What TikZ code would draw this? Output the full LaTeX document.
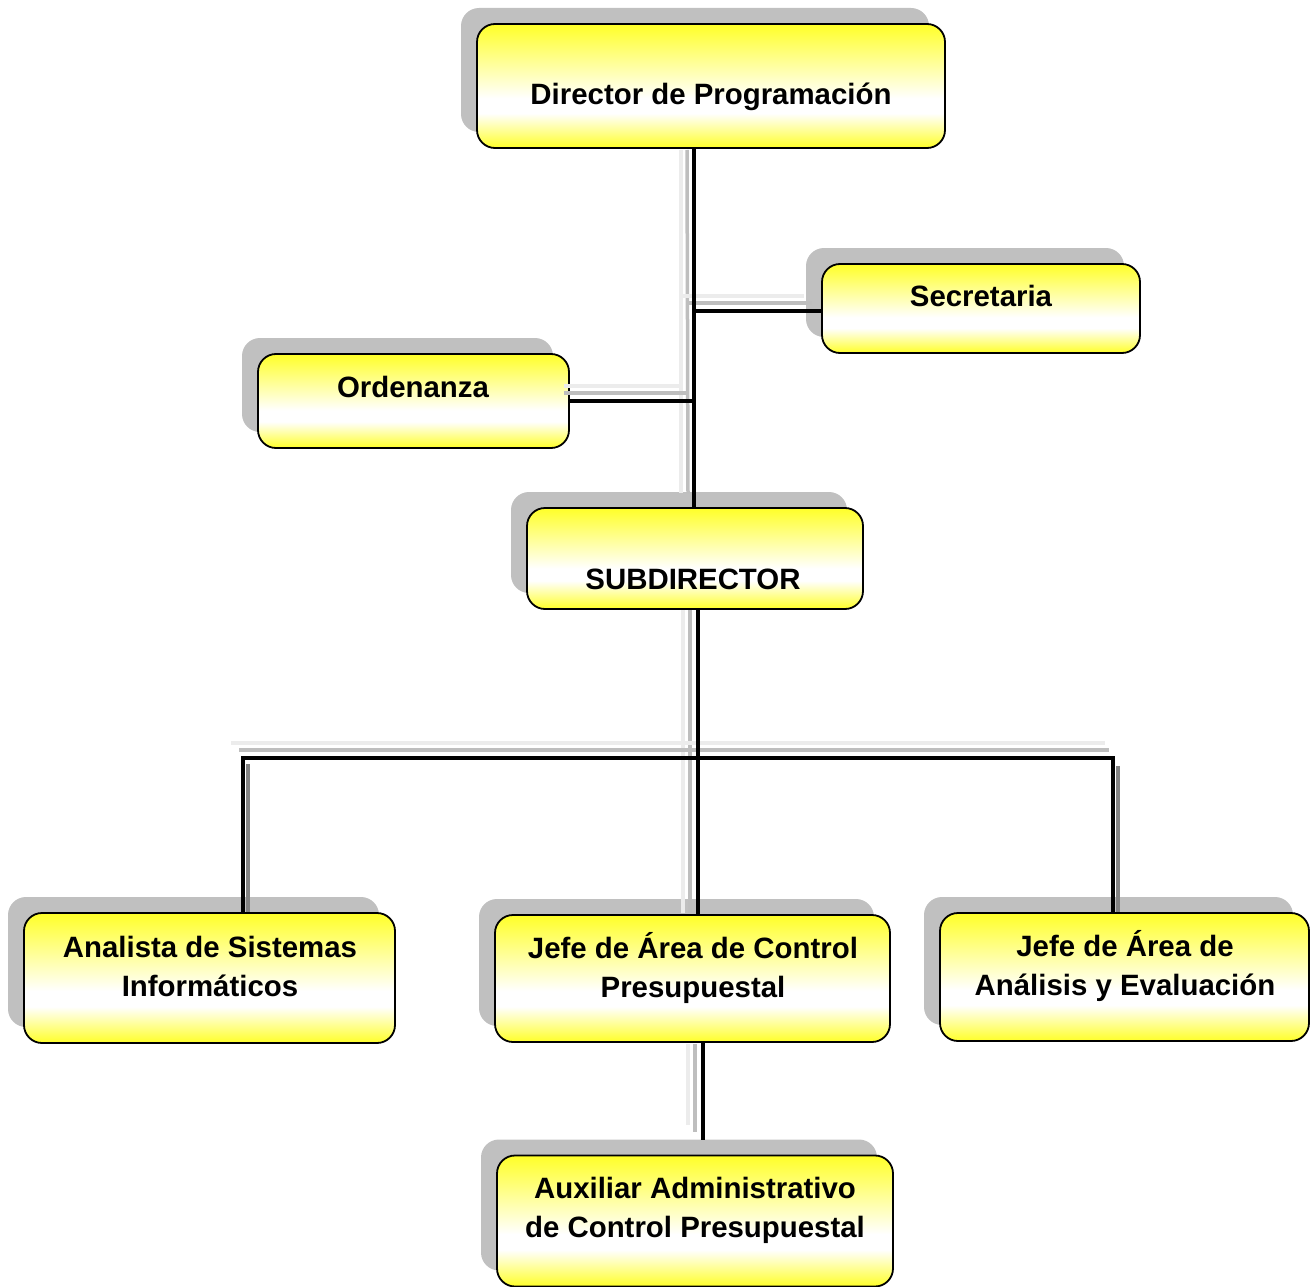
\documentclass[tikz,border=0pt]{standalone}
\usepackage{fontspec}
\setmainfont{Liberation Sans}
\usetikzlibrary{shadows,calc}
\definecolor{byel}{RGB}{255,255,40}
\definecolor{shadowgray}{RGB}{192,192,192}
\definecolor{lnmid}{RGB}{190,190,190}
\definecolor{lnlight}{RGB}{236,236,236}
\definecolor{lndark}{RGB}{130,130,130}
\pgfdeclareverticalshading{boxshade}{100bp}{color(0bp)=(byel); color(25bp)=(byel); color(39bp)=(white); color(45bp)=(white); color(75bp)=(byel); color(100bp)=(byel)}
\tikzset{
  orgbox/.style={rectangle, rounded corners=18pt, draw=black, line width=1.8pt,
    shade, shading=boxshade, inner sep=0pt,
    drop shadow={shadow xshift=-16pt, shadow yshift=16pt, fill=shadowgray, opacity=1}},
  lbl/.style={font=\bfseries\fontsize{29.4}{39}\selectfont, align=center, inner sep=0pt},
  conn/.style={line width=3.8pt, draw=black},
  shmid/.style={line width=3.5pt, draw=lnmid},
  shlight/.style={line width=3.5pt, draw=lnlight},
  shdark/.style={line width=3.5pt, draw=lndark},
}
\begin{document}
\begin{tikzpicture}[x=1pt, y=-1pt]
\useasboundingbox (0,0) rectangle (1310,1287);
% boxes
\node[orgbox, minimum width=468pt, minimum height=124pt] (dir) at (711,86) {};
\node[orgbox, minimum width=318pt, minimum height=89pt] (sec) at (981,308.5) {};
\node[orgbox, minimum width=311pt, minimum height=94pt] (ord) at (413.5,401) {};
\node[orgbox, minimum width=336pt, minimum height=101pt] (sub) at (695,558.5) {};
\node[orgbox, minimum width=371pt, minimum height=130pt] (ana) at (209.5,978) {};
\node[orgbox, minimum width=395pt, minimum height=127pt] (jc) at (692.5,978.5) {};
\node[orgbox, minimum width=369pt, minimum height=128pt] (ja) at (1124.5,977) {};
\node[orgbox, minimum width=396pt, minimum height=131pt] (aux) at (695,1221) {};
% helper coordinates
\coordinate (tk1) at (694,148);
\coordinate (tk2) at (698,609);
\coordinate (secin) at (822,311);
\coordinate (busL) at (243,758);
\coordinate (busR) at (1113,758);
\coordinate (auxtop) at (703,1140);
% connector shadows
\draw[shlight] ($(tk1)+(-13,2)$) -- ($(sub.north -| tk1)+(-13,-14)$);
\draw[shmid] ($(tk1)+(-7,2)$) -- ($(sub.north -| tk1)+(-6,-14)$);
\draw[shlight] ($(secin -| tk1)+(-15,-15)$) -- ($(secin)+(-18,-15)$);
\draw[shmid] ($(secin -| tk1)+(-7,-8)$) -- ($(secin)+(-10,-8)$);
\draw[shlight] ($(ord.east)+(-6,-15)$) -- ($(ord.east -| tk1)+(-13,-15)$);
\draw[shmid] ($(ord.east)+(-6,-8)$) -- ($(ord.east -| tk1)+(-7,-8)$);
\draw[shlight] ($(tk2)+(-15,1)$) -- ($(jc.north -| tk2)+(-15,-1)$);
\draw[shmid] ($(tk2)+(-8,1)$) -- ($(jc.north -| tk2)+(-8,-1)$);
\draw[shlight] ($(busL)+(-12,-15)$) -- ($(busR)+(-8,-15)$);
\draw[shmid] ($(busL)+(-4,-8)$) -- ($(busR)+(-4,-8)$);
\draw[shdark] ($(busL)+(5,6)$) -- ($(ana.north -| busL)+(5,0)$);
\draw[shdark] ($(busR)+(5,8)$) -- ($(ja.north -| busR)+(5,0)$);
\draw[shlight] ($(jc.south -| auxtop)+(-15,1)$) -- ($(auxtop)+(-15,-15)$);
\draw[shmid] ($(jc.south -| auxtop)+(-8,1)$) -- ($(auxtop)+(-8,-8)$);
% connectors
\draw[conn] (tk1) -- (sub.north -| tk1);
\draw[conn] (secin) -- (secin -| tk1);
\draw[conn] (ord.east) -- (ord.east -| tk1);
\draw[conn] (tk2) -- (jc.north -| tk2);
\draw[conn] (ana.north -| busL) -- (busL) -- (busR) -- (ja.north -| busR);
\draw[conn] (jc.south -| auxtop) -- (auxtop);
% labels
\node[lbl] (dirt) at (711,97) {Director de Programación};
\node[lbl] (sect) at (981,296) {Secretaria};
\node[lbl] (ordt) at (413,387) {Ordenanza};
\node[lbl] (subt) at (693,579) {SUBDIRECTOR};
\node[lbl] (anat) at (210,966.5) {Analista de Sistemas\\Informáticos};
\node[lbl] (jct) at (693,968.5) {Jefe de Área de Control\\Presupuestal};
\node[lbl] (jat) at (1125,966) {Jefe de Área de\\Análisis y Evaluación};
\node[lbl] (auxt) at (695,1210) {Auxiliar Administrativo\\de Control Presupuestal};
\end{tikzpicture}
\end{document}
